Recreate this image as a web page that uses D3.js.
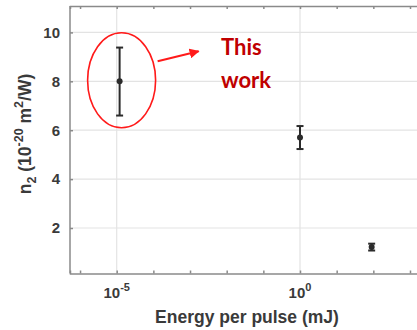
<!DOCTYPE html>
<html><head><meta charset="utf-8">
<script src="https://cdn.jsdelivr.net/npm/d3@7"></script>
<style>body{margin:0;background:#fff}svg{display:block}</style>
</head><body>
<svg id="c" width="417" height="330"></svg>
<script>
const energies = [1.2e-5, 1, 90];
const n2 = [8.0, 5.7, 1.22];
const errLow = [6.6, 5.23, 1.08];
const errHigh = [9.38, 6.17, 1.36];
const yTicks = [2, 4, 6, 8, 10];
const xLabelTicks = [1e-5, 1];
const xMinorTicks = [1e-6, 1e-5, 1e-4, 1e-3, 1e-2, 1e-1, 1, 10, 100, 1000];
const annotation = "This work";

const svg = d3.select("#c");
const L = 70, R = 424, T = 6, B = 273.5;
const x = d3.scaleLog().domain([Math.pow(10, -6.274), Math.pow(10, 3.382)]).range([L, R]);
const y = d3.scaleLinear().domain([0.14, 11.08]).range([B, T]);
const font = "Liberation Sans, Arial, sans-serif";
const txtCol = "#3a3a3a";

const g = svg.append("g");
// gridlines
g.selectAll(".hg").data(yTicks).enter().append("line")
  .attr("x1", L).attr("x2", R).attr("y1", d => y(d)).attr("y2", d => y(d))
  .attr("stroke", "#e3e3e3").attr("stroke-width", 1.2);
g.selectAll(".vg").data(xLabelTicks).enter().append("line")
  .attr("y1", T).attr("y2", B).attr("x1", d => x(d)).attr("x2", d => x(d))
  .attr("stroke", "#e3e3e3").attr("stroke-width", 1.2);

const axCol = "#8a8a8a";
const xb = d3.axisBottom(x).tickValues(xMinorTicks).tickSize(-3).tickFormat("");
g.append("g").attr("transform", `translate(0,${B})`).call(xb)
  .call(s => { s.selectAll("path,line").attr("stroke", axCol).attr("stroke-width", 1.5); });
const xt = d3.axisTop(x).tickValues(xMinorTicks).tickSize(-3).tickFormat("");
g.append("g").attr("transform", `translate(0,${T})`).call(xt)
  .call(s => { s.selectAll("path,line").attr("stroke", axCol).attr("stroke-width", 1.5); });
const yl = d3.axisLeft(y).tickValues(yTicks).tickSize(-3).tickPadding(10).tickSizeOuter(0);
g.append("g").attr("transform", `translate(${L},0)`).call(yl)
  .call(s => {
    s.select(".domain").attr("d", `M0,${B}V${T}`);
    s.selectAll("path,line").attr("stroke", axCol).attr("stroke-width", 1.5);
    s.selectAll("text").attr("font-family", font)
      .attr("font-size", 15).attr("font-weight", "bold").attr("fill", txtCol);
  });

// x tick labels with superscripts
const fmtExp = v => Math.round(Math.log10(v));
const xl = g.selectAll(".xl").data(xLabelTicks).enter().append("text")
  .attr("x", d => x(d)).attr("y", 298)
  .attr("text-anchor", "middle")
  .attr("font-family", font).attr("font-size", 15)
  .attr("font-weight", "bold").attr("fill", txtCol);
xl.append("tspan").text("10");
xl.append("tspan").attr("dy", -7).attr("font-size", 11).text(d => fmtExp(d));

// axis labels
g.append("text").attr("x", 247).attr("y", 323).attr("text-anchor", "middle")
  .attr("font-family", font).attr("font-size", 17.5)
  .attr("font-weight", "bold").attr("fill", txtCol).text("Energy per pulse (mJ)");
const ylab = g.append("text").attr("transform", "translate(31,134) rotate(-90)")
  .attr("text-anchor", "middle")
  .attr("font-family", font).attr("font-size", 17.5)
  .attr("font-weight", "bold").attr("fill", txtCol);
ylab.append("tspan").text("n");
ylab.append("tspan").attr("dy", 5).attr("font-size", 12.5).text("2");
ylab.append("tspan").attr("dy", -5).text(" (10");
ylab.append("tspan").attr("dy", -8).attr("font-size", 12.5).text("-20");
ylab.append("tspan").attr("dy", 8).text(" m");
ylab.append("tspan").attr("dy", -8).attr("font-size", 12.5).text("2");
ylab.append("tspan").attr("dy", 8).text("/W)");

// error bars
const data = energies.map((e, i) => ({e, v: n2[i], lo: errLow[i], hi: errHigh[i]}));
const eb = g.selectAll(".eb").data(data).enter().append("g").attr("stroke", "#2b2b2b").attr("stroke-width", 2);
eb.append("line").attr("x1", d => x(d.e)).attr("x2", d => x(d.e)).attr("y1", d => y(d.lo)).attr("y2", d => y(d.hi));
eb.append("line").attr("x1", d => x(d.e) - 3.5).attr("x2", d => x(d.e) + 3.5).attr("y1", d => y(d.lo)).attr("y2", d => y(d.lo));
eb.append("line").attr("x1", d => x(d.e) - 3.5).attr("x2", d => x(d.e) + 3.5).attr("y1", d => y(d.hi)).attr("y2", d => y(d.hi));
g.selectAll(".pt").data(data).enter().append("circle")
  .attr("cx", d => x(d.e)).attr("cy", d => y(d.v)).attr("r", 3).attr("fill", "#2b2b2b");

// annotation
const cx = x(energies[0]) + 2, cy = y(n2[0]) - 1;
g.append("ellipse").attr("cx", cx).attr("cy", cy).attr("rx", 34).attr("ry", 47.5)
  .attr("fill", "none").attr("stroke", "#ff1a1a").attr("stroke-width", 1.6);
svg.append("defs").append("marker").attr("id", "ah").attr("viewBox", "0 0 10 10")
  .attr("refX", 9).attr("refY", 5).attr("markerWidth", 5).attr("markerHeight", 5)
  .attr("orient", "auto").append("path").attr("d", "M0,0L10,5L0,10z").attr("fill", "#ff1a1a");
g.append("line").attr("x1", cx + 36).attr("y1", cy - 19).attr("x2", cx + 77).attr("y2", cy - 29)
  .attr("stroke", "#ff1a1a").attr("stroke-width", 2).attr("marker-end", "url(#ah)");
const words = annotation.split(" ");
g.selectAll(".an").data(words).enter().append("text")
  .attr("x", 221).attr("y", (d, i) => 55 + i * 33)
  .attr("font-family", "Lato, sans-serif").attr("font-weight", "bold").attr("font-size", 22)
  .attr("fill", "#c00000").text(d => d);
</script>
</body></html>
